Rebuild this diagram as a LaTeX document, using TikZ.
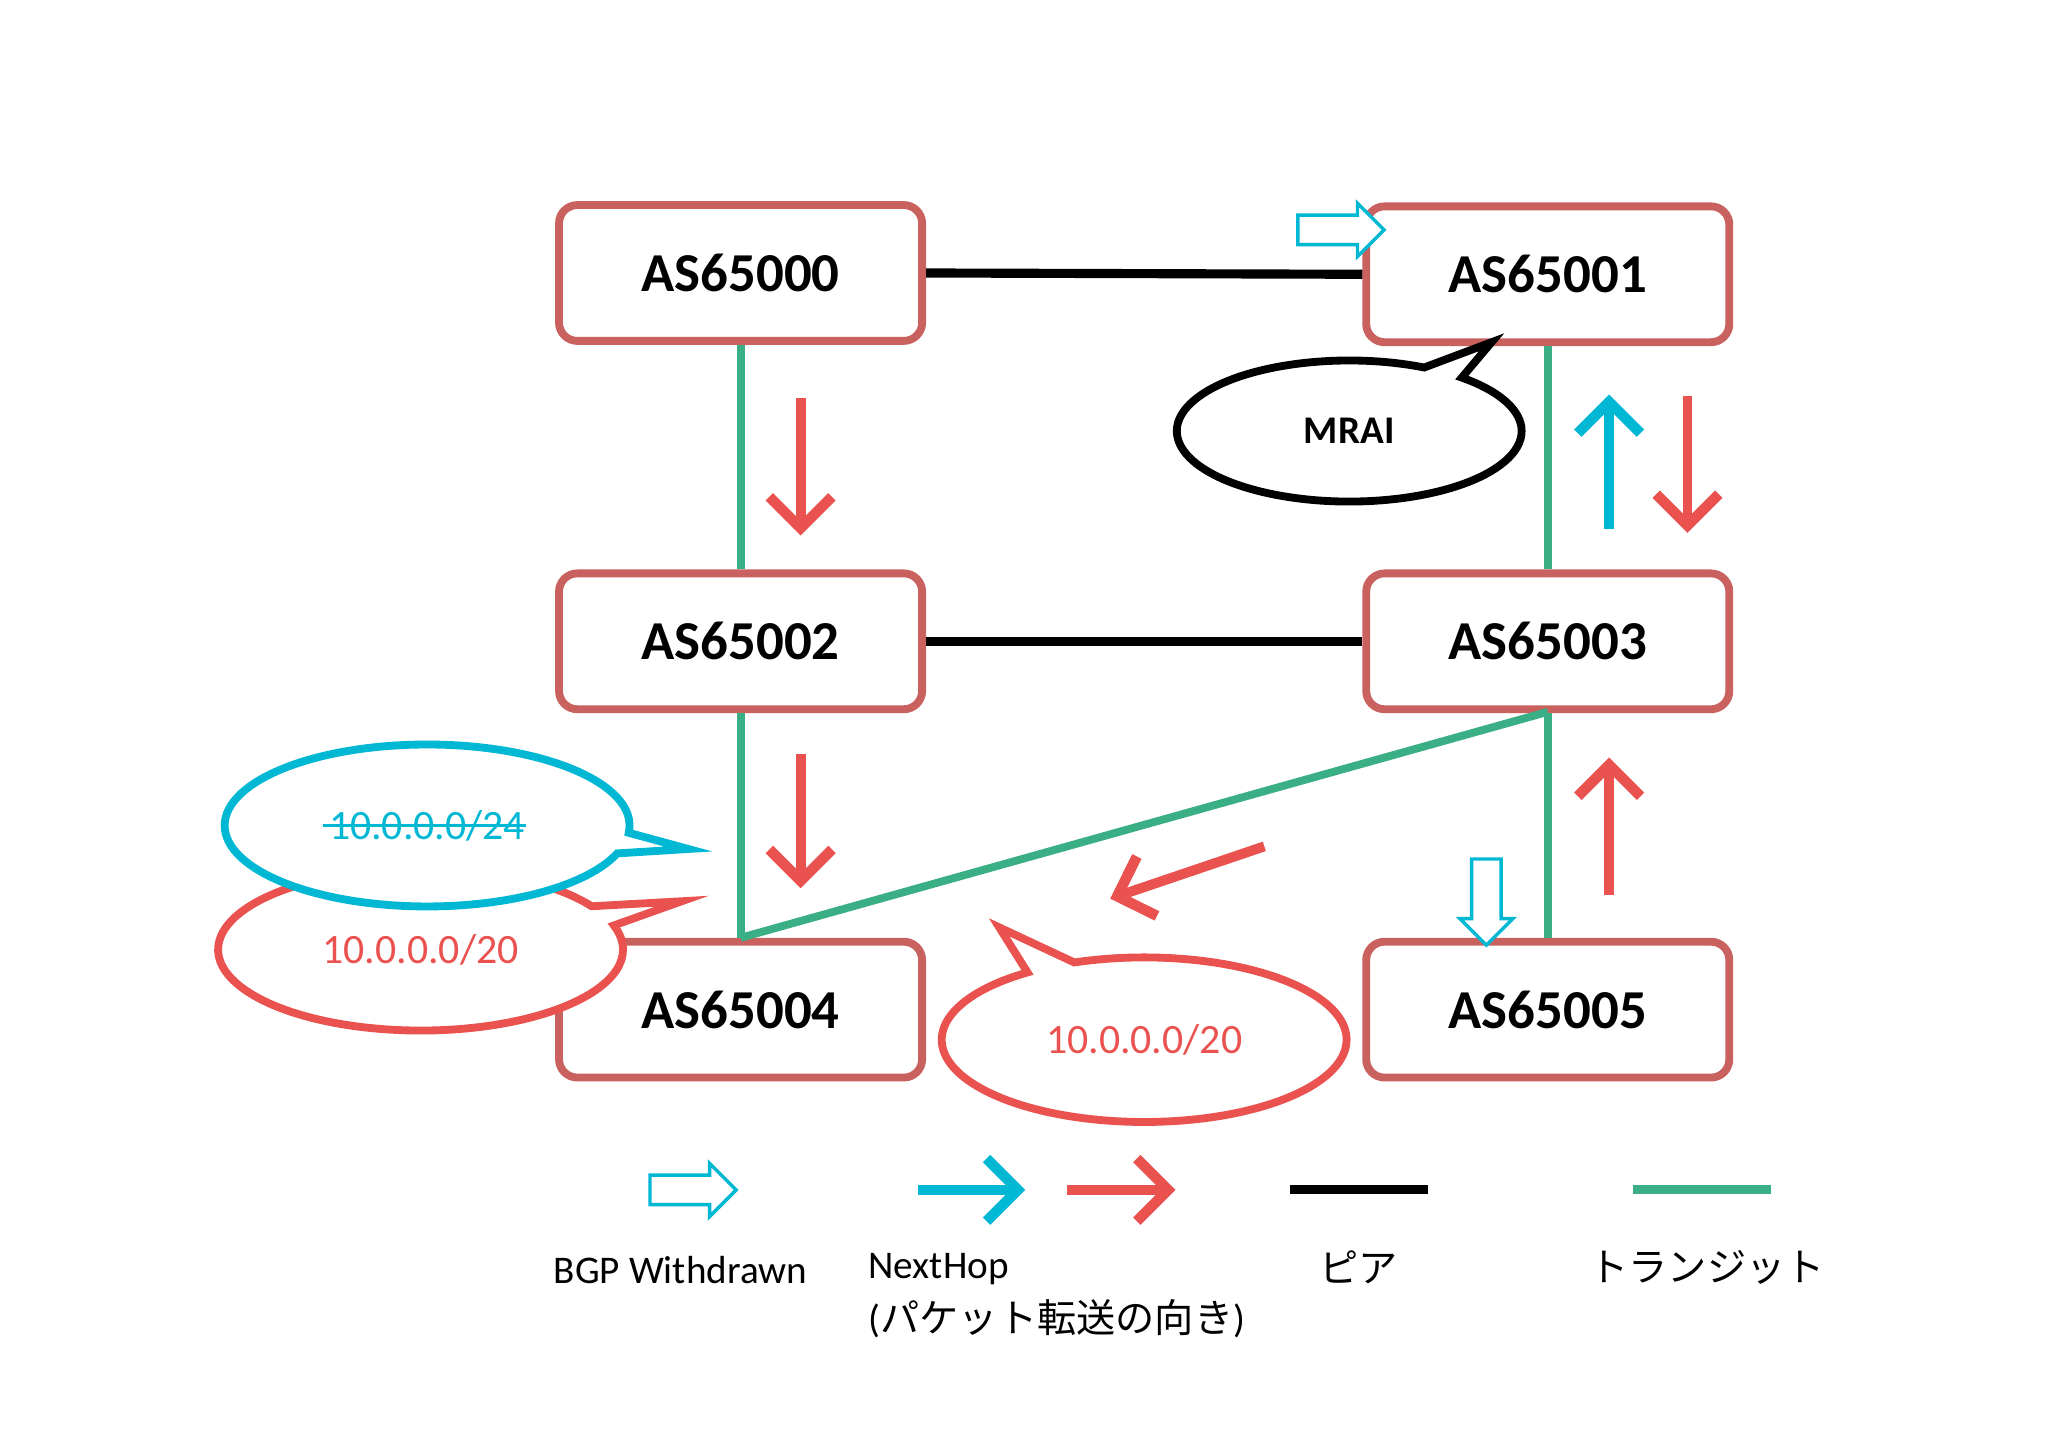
\documentclass[tikz,border=0pt]{standalone}
\usepackage{fontspec}
\setmainfont{Carlito}
\newfontfamily\cjk{Noto Sans CJK JP}
\usetikzlibrary{arrows.meta,shapes.callouts,shapes.arrows}
\definecolor{boxr}{HTML}{C9625E}
\definecolor{ared}{HTML}{E9524F}
\definecolor{acyan}{HTML}{00B8D4}
\definecolor{agreen}{HTML}{3AAF85}
\begin{document}
\begin{tikzpicture}[x=0.5pt,y=-0.5pt,
  as/.style={draw=boxr,line width=3pt,rounded corners=7pt,fill=white,minimum width=139pt,minimum height=52pt,font=\bfseries\fontsize{21}{25}\selectfont},
  peer/.style={line width=3.5pt,black},
  tr/.style={line width=3pt,agreen},
  nh/.style={line width=3.8pt,-{Straight Barb[length=12pt,width=24pt,line width=4pt]}},
  wd/.style={single arrow,draw=acyan,line width=1.3pt,fill=white,minimum height=33pt,text width=0pt,text height=10pt,text depth=0pt,single arrow head extend=4.5pt,inner sep=0pt,single arrow tip angle=90},
  co/.style={ellipse callout,line width=3pt,fill=white,inner sep=0pt},
  lbl/.style={font=\fontsize{15}{17}\selectfont}]
\useasboundingbox (0,0) rectangle (1568,1108);
\fill[white] (0,0) rectangle (1568,1108);
\coordinate (c4) at (567,718);
\coordinate (c3) at (1185,545);
\node[as] (a0) at (567,209) {AS65000};
\node[as] (a1) at (1185,210) {AS65001};
\node[as] (a2) at (567,491) {AS65002};
\node[as] (a3) at (1185,491) {AS65003};
\node[as] (a4) at (567,773) {AS65004};
\node[as] (a5) at (1185,773) {AS65005};
\draw[peer] (a0.east) -- (a1.west);
\draw[peer] (a2.east) -- (a3.west);
\draw[tr] (a0.south) -- (a2.north);
\draw[tr] (a2.south) -- (a4.north);
\draw[tr] (a1.south) -- (a3.north);
\draw[tr] (a3.south) -- (a5.north);
\draw[tr] (c4) -- (c3);
\coordinate (r1s) at (613,305); \coordinate (r1e) at (613,410);
\coordinate (r2s) at (613,577); \coordinate (r2e) at (613,680);
\coordinate (r3s) at (1292,303); \coordinate (r3e) at (1292,408);
\coordinate (r4s) at (1232,685); \coordinate (r4e) at (1232,580);
\coordinate (r5s) at (968,648); \coordinate (r5e) at (850,688);
\coordinate (c1s) at (1232,405); \coordinate (c1e) at (1232,302);
\draw[nh,ared] (r1s) -- (r1e);
\draw[nh,ared] (r2s) -- (r2e);
\draw[nh,ared] (r3s) -- (r3e);
\draw[nh,ared] (r4s) -- (r4e);
\draw[nh,ared] (r5s) -- (r5e);
\draw[nh,acyan] (c1s) -- (c1e);
\node[wd] (w1) at (1021,176) {};
\node[wd,rotate=-90] (w2) at (1138,685) {};
\node[co,draw=black,minimum width=132pt,minimum height=54pt,callout absolute pointer={(1142,262)},font=\bfseries\fontsize{15}{18}\selectfont] (mrai) at (1033,330) {MRAI};
\node[co,draw=ared,minimum width=155pt,minimum height=62pt,callout absolute pointer={(522,690)},text=ared,font=\fontsize{16}{19}\selectfont] (p20a) at (322,727) {10.0.0.0/20};
\node[co,draw=acyan,minimum width=155pt,minimum height=62pt,callout absolute pointer={(527,650)},text=acyan,font=\fontsize{16}{19}\selectfont] (p24) at (327,632) {10.0.0.0/24};
\draw[acyan,line width=0.8pt] (p24.west) ++(78,0) -- ++(156,0);
\node[co,draw=ared,minimum width=155pt,minimum height=63pt,callout absolute pointer={(765,710)},text=ared,font=\fontsize{16}{19}\selectfont] (p20b) at (876,796) {10.0.0.0/20};
\node[wd] (lw) at (525,911) {};
\coordinate (lcs) at (703,911); \coordinate (lce) at (785,911);
\coordinate (lrs) at (817,911); \coordinate (lre) at (900,911);
\draw[nh,acyan] (lcs) -- (lce);
\draw[nh,ared] (lrs) -- (lre);
\coordinate (lps) at (988,911); \coordinate (lpe) at (1093,911);
\coordinate (lts) at (1250,911); \coordinate (lte) at (1356,911);
\draw[peer] (lps) -- (lpe);
\draw[tr,line width=3.5pt] (lts) -- (lte);
\node[lbl] (t1) at (521,972) {BGP Withdrawn};
\node[lbl,anchor=west] (t2) at (658,972) {NextHop};
\node[lbl,anchor=west] (t3) at (658,1010) {(\cjk パケット転送の向き\normalfont)};
\node[lbl] (t4) at (1040,970) {\cjk ピア};
\node[lbl] (t5) at (1307,970) {\cjk トランジット};
\end{tikzpicture}
\end{document}
